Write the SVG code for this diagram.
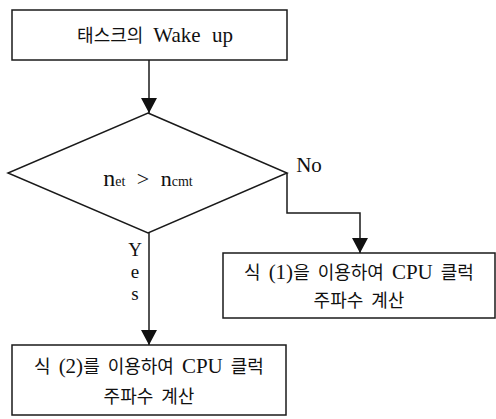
<svg xmlns="http://www.w3.org/2000/svg" width="496" height="419" viewBox="0 0 496 419">
<style>
.box{fill:#fff;stroke:#1a1a1a;stroke-width:1.5}
.ln{fill:none;stroke:#1a1a1a;stroke-width:1.5}
.t{font-family:"Liberation Serif","Noto Sans CJK KR",serif;fill:#111;text-anchor:middle}
.k{font-family:"Noto Sans CJK KR",sans-serif;font-size:18px}
.l{font-family:"Liberation Serif",serif;font-size:21px}
</style>
<defs>
<marker id="ah" viewBox="0 0 15 16" refX="15" refY="8" markerWidth="15" markerHeight="16" markerUnits="userSpaceOnUse" orient="auto">
<path d="M0,0 L15,8 L0,16 z" fill="#111"/>
</marker>
</defs>
<g id="connectors">
<path class="ln" d="M149,60 V113" marker-end="url(#ah)"/>
<path class="ln" d="M287,173 V213 H360 V253" marker-end="url(#ah)"/>
<path class="ln" d="M149,233 V345" marker-end="url(#ah)"/>
</g>
<g id="start">
<rect class="box" x="12" y="10" width="275" height="50"/>
<text class="t" x="155" y="42" word-spacing="6"><tspan class="k">태스크의</tspan> <tspan class="l">Wake up</tspan></text>
</g>
<g id="decision">
<polygon class="box" points="148,113 287,173 148,233 8,173"/>
<text class="t" x="148" y="186" word-spacing="6"><tspan font-size="24">n</tspan><tspan font-size="14">et</tspan><tspan font-size="22"> &gt; n</tspan><tspan font-size="14">cmt</tspan></text>
<text class="t" x="309" y="172" font-size="21">No</text>
<text class="t" x="135" y="256" font-size="19">Y</text>
<text class="t" x="135" y="278" font-size="19">e</text>
<text class="t" x="135" y="300" font-size="19">s</text>
</g>
<g id="eq1">
<rect class="box" x="223" y="253" width="272" height="65"/>
<text class="t" x="359" y="279" word-spacing="4"><tspan class="k">식</tspan> <tspan class="l" font-size="20">(1)</tspan><tspan class="k">을</tspan> <tspan class="k">이용하여</tspan> <tspan class="l" font-size="20">CPU</tspan> <tspan class="k">클럭</tspan></text>
<text class="t" x="359" y="307" word-spacing="4"><tspan class="k">주파수</tspan> <tspan class="k">계산</tspan></text>
</g>
<g id="eq2">
<rect class="box" x="12" y="345" width="274" height="70"/>
<text class="t" x="149" y="373" word-spacing="4"><tspan class="k">식</tspan> <tspan class="l" font-size="20">(2)</tspan><tspan class="k">를</tspan> <tspan class="k">이용하여</tspan> <tspan class="l" font-size="20">CPU</tspan> <tspan class="k">클럭</tspan></text>
<text class="t" x="149" y="403" word-spacing="4"><tspan class="k">주파수</tspan> <tspan class="k">계산</tspan></text>
</g>
</svg>
